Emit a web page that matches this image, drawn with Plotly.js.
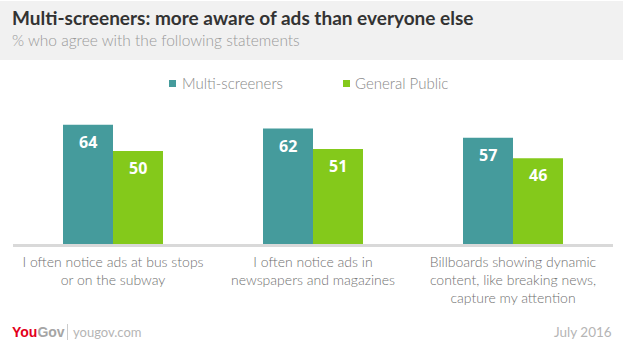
<!DOCTYPE html>
<html>
<head>
<meta charset="utf-8">
<script src="https://cdn.plot.ly/plotly-3.0.1.min.js"></script>
<style>html,body{margin:0;padding:0;background:#fff;}#chart{width:623px;height:362px;}</style>
</head>
<body>
<div id="chart"></div>
<script>
// ---- data ----
const categories = [
  "I often notice ads at bus stops<br>or on the subway",
  "I often notice ads in<br>newspapers and magazines",
  "Billboards showing dynamic<br>content, like breaking news,<br>capture my attention"
];
const seriesNames = ["Multi-screeners", "General Public"];
const multiScreeners = [64, 62, 57];
const generalPublic = [50, 51, 46];
const titleText = "Multi-screeners: more aware of ads than everyone else";
const subtitleText = "% who agree with the following statements";
const dateText = "July 2016";

// ---- layout helpers ----
const W = 623, H = 362, L = 13, R = 10, T = 95, B = 118;
const pw = W - L - R, ph = H - T - B;
const px = p => (p - L) / pw;
const py = p => (T + ph - p) / ph;
const teal = "#459b9c", green = "#84c91b";
const lightFont = "Lato, 'Open Sans', sans-serif";

const traces = [
  {type: "bar", name: seriesNames[0], x: categories, y: multiScreeners,
   marker: {color: teal}, showlegend: false, hoverinfo: "none"},
  {type: "bar", name: seriesNames[1], x: categories, y: generalPublic,
   marker: {color: green}, showlegend: false, hoverinfo: "none"}
];

const annotations = [];
// value labels inside bars
[multiScreeners, generalPublic].forEach((vals, si) => {
  vals.forEach((v, i) => {
    annotations.push({x: categories[i], y: v, xref: "x", yref: "y",
      text: String(v), showarrow: false, xshift: si === 0 ? -25 : 25, yshift: -17,
      yanchor: "middle", font: {family: "'Open Sans', sans-serif", size: 16, weight: 700, color: "#ffffff"}});
  });
});
// title & subtitle
annotations.push({xref: "paper", yref: "paper", x: px(10), y: py(17), xanchor: "left", yanchor: "middle",
  text: titleText, showarrow: false, font: {family: lightFont, size: 19, weight: 700, color: "#333333"}});
annotations.push({xref: "paper", yref: "paper", x: px(10), y: py(40), xanchor: "left", yanchor: "middle",
  text: subtitleText, showarrow: false, font: {family: lightFont, size: 15.5, weight: 300, color: "#999999"}});
// legend texts
annotations.push({xref: "paper", yref: "paper", x: px(180), y: py(83.5), xanchor: "left", yanchor: "middle",
  text: seriesNames[0], showarrow: false, font: {family: lightFont, size: 15, weight: 300, color: "#888888"}});
annotations.push({xref: "paper", yref: "paper", x: px(353), y: py(83.5), xanchor: "left", yanchor: "middle",
  text: seriesNames[1], showarrow: false, font: {family: lightFont, size: 15, weight: 300, color: "#888888"}});
// footer
annotations.push({xref: "paper", yref: "paper", x: px(10), y: py(332), xanchor: "left", yanchor: "middle",
  text: "<span style='color:#e3001b'>You</span><span style='color:#a5a5a5'>Gov</span>", showarrow: false,
  font: {family: "'Liberation Sans', Arial, sans-serif", size: 14, weight: 700, color: "#e3001b"}});
annotations.push({xref: "paper", yref: "paper", x: px(71), y: py(332), xanchor: "left", yanchor: "middle",
  text: "yougov.com", showarrow: false, font: {family: lightFont, size: 13, weight: 400, color: "#b5b5b5"}});
annotations.push({xref: "paper", yref: "paper", x: px(614), y: py(332), xanchor: "right", yanchor: "middle",
  text: dateText, showarrow: false, font: {family: lightFont, size: 13.5, weight: 400, color: "#b5b5b5"}});

const shapes = [
  {type: "rect", xref: "paper", yref: "paper", x0: px(0), x1: px(W), y0: py(60), y1: py(1),
   fillcolor: "#f1f1f1", line: {width: 0}, layer: "below"},
  {type: "rect", xref: "paper", yref: "paper", x0: px(169), x1: px(176), y0: py(87), y1: py(80),
   fillcolor: teal, line: {width: 0}},
  {type: "rect", xref: "paper", yref: "paper", x0: px(343), x1: px(350), y0: py(87), y1: py(80),
   fillcolor: green, line: {width: 0}},
  {type: "line", xref: "paper", yref: "paper", x0: px(67.5), x1: px(67.5), y0: py(324), y1: py(340),
   line: {color: "#cccccc", width: 1}}
];

const layout = {
  width: W, height: H,
  margin: {l: L, r: R, t: T, b: B, pad: 0},
  paper_bgcolor: "#ffffff", plot_bgcolor: "#ffffff",
  barmode: "group", bargap: 0.5, bargroupgap: 0,
  showlegend: false,
  xaxis: {showgrid: false, zeroline: false, showline: true, linecolor: "#d9d9d9", linewidth: 3,
    ticks: "", ticklabelstandoff: 3,
    tickfont: {family: lightFont, size: 14, weight: 300, color: "#707070"}, fixedrange: true},
  yaxis: {range: [0, 80], visible: false, fixedrange: true},
  annotations: annotations,
  shapes: shapes
};

Plotly.newPlot("chart", traces, layout, {displayModeBar: false, staticPlot: true});
</script>
</body>
</html>
